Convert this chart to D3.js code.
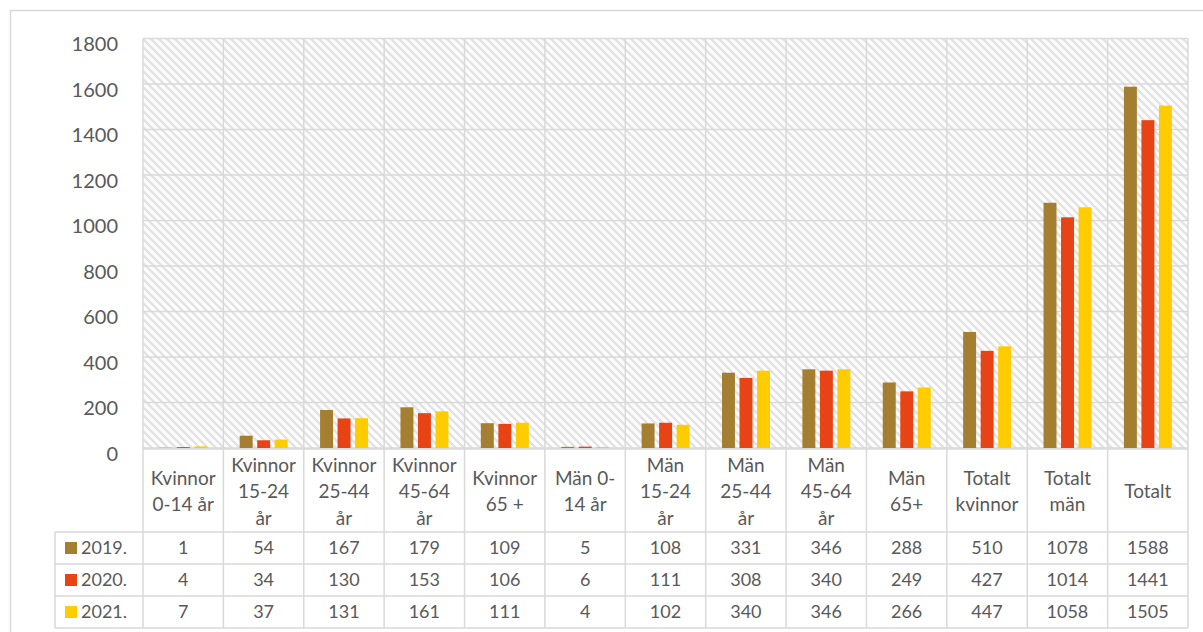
<!DOCTYPE html>
<meta charset="utf-8">
<style>
  body { margin: 0; background: #fff; }
  text { font-family: Lato, "Noto Sans", sans-serif; fill: #595959; }
</style>
<script src="https://d3js.org/d3.v7.min.js"></script>
<div id="chart"></div>
<script>

// data
var headers = [
  ["Kvinnor", "0-14 år"],
  ["Kvinnor", "15-24", "år"],
  ["Kvinnor", "25-44", "år"],
  ["Kvinnor", "45-64", "år"],
  ["Kvinnor", "65 +"],
  ["Män 0-", "14 år"],
  ["Män", "15-24", "år"],
  ["Män", "25-44", "år"],
  ["Män", "45-64", "år"],
  ["Män", "65+"],
  ["Totalt", "kvinnor"],
  ["Totalt", "män"],
  ["Totalt"]
];
var years = ["2019.", "2020.", "2021."];
var values2019 = [1, 54, 167, 179, 109, 5, 108, 331, 346, 288, 510, 1078, 1588];
var values2020 = [4, 34, 130, 153, 106, 6, 111, 308, 340, 249, 427, 1014, 1441];
var values2021 = [7, 37, 131, 161, 111, 4, 102, 340, 346, 266, 447, 1058, 1505];
var colors = ["#a47f31", "#e84314", "#ffcc00"];
var yTicks = [0, 200, 400, 600, 800, 1000, 1200, 1400, 1600, 1800];

var series = [values2019, values2020, values2021];

var W = 1203, H = 632;
var gridColor = "#d9d9d9";

var svg = d3.select("#chart").append("svg")
    .attr("width", W)
    .attr("height", H);

// hatch pattern for the plot area
var defs = svg.append("defs");
var pat = defs.append("pattern")
    .attr("id", "hatch")
    .attr("patternUnits", "userSpaceOnUse")
    .attr("width", 8)
    .attr("height", 8);
pat.append("rect").attr("width", 8).attr("height", 8).attr("fill", "#fff");
pat.append("path")
    .attr("d", "M-2,-2 L10,10 M-2,6 L2,10 M6,-2 L10,2")
    .attr("stroke", "#e3e3e3")
    .attr("stroke-width", 2.6);

// outer frame (cut off at the right and bottom)
svg.append("path")
    .attr("d", "M10.5," + (H + 2) + " L10.5,10.5 L" + (W + 2) + ",10.5")
    .attr("fill", "none")
    .attr("stroke", gridColor)
    .attr("stroke-width", 1.5);

// scales
var x = d3.scaleBand()
  .domain(d3.range(headers.length))
  .range([143, 1188])
  .padding(0);

var xSub = d3.scaleBand()
  .domain(years)
  .range([16.3, 64.3])
  .paddingInner(0.26);

var y = d3.scaleLinear()
  .domain([0, 1800])
  .range([448, 38.5]);

var tableTop = 449, headerBottom = 532, rowH = 32, tableLeft = 55;
var tableBottom = headerBottom + rowH * years.length;

// plot background
svg.append("rect")
    .attr("x", x.range()[0])
    .attr("y", y(1800))
    .attr("width", x.range()[1] - x.range()[0])
    .attr("height", y(0) - y(1800))
    .attr("fill", "url(#hatch)");

// horizontal grid lines
svg.append("g").selectAll("line")
  .data(yTicks)
  .enter().append("line")
    .attr("x1", x.range()[0])
    .attr("x2", x.range()[1])
    .attr("y1", function(d) { return y(d); })
    .attr("y2", function(d) { return y(d); })
    .attr("stroke", gridColor)
    .attr("stroke-width", 1.5);

// vertical lines: category borders run through plot and table
var borders = d3.range(headers.length).map(function(i) { return x(i); }).concat([x.range()[1]]);
svg.append("g").selectAll("line")
  .data(borders)
  .enter().append("line")
    .attr("x1", function(d) { return d; })
    .attr("x2", function(d) { return d; })
    .attr("y1", y(1800))
    .attr("y2", tableBottom)
    .attr("stroke", gridColor)
    .attr("stroke-width", 1.5);

// Y AXIS
var yAxis = d3.axisLeft(y)
  .tickValues(yTicks)
  .tickFormat(d3.format("d"))
  .tickSize(0)
  .tickPadding(25);
var ya = svg.append("g")
  .attr("transform", "translate(" + x.range()[0] + ",0)")
  .call(yAxis);
ya.select(".domain").remove();
ya.selectAll("text")
  .attr("dy", "0.6em")
  .style("font-size", "20px")
  .style("font-family", "Lato, sans-serif")
  .attr("fill", "#595959");

// bars
var groups = svg.append("g").selectAll("g")
  .data(d3.range(headers.length))
  .enter().append("g")
    .attr("transform", function(i) { return "translate(" + x(i) + ",0)"; });

groups.selectAll("rect")
  .data(function(i) { return series.map(function(s, k) { return {year: years[k], value: s[i], k: k}; }); })
  .enter().append("rect")
    .attr("x", function(d) { return xSub(d.year); })
    .attr("width", xSub.bandwidth())
    .attr("y", function(d) { return y(d.value); })
    .attr("height", function(d) { return y(0) - y(d.value); })
    .attr("fill", function(d) { return colors[d.k]; });

// TABLE lines
var hLines = [
  {y: tableTop, x1: x.range()[0]},
  {y: headerBottom, x1: tableLeft}
];
years.forEach(function(yr, k) {
  hLines.push({y: headerBottom + rowH * (k + 1), x1: tableLeft});
});
svg.append("g").selectAll("line")
  .data(hLines)
  .enter().append("line")
    .attr("x1", function(d) { return d.x1; })
    .attr("x2", x.range()[1])
    .attr("y1", function(d) { return d.y; })
    .attr("y2", function(d) { return d.y; })
    .attr("stroke", gridColor)
    .attr("stroke-width", 1.5);

svg.append("line")
    .attr("x1", tableLeft).attr("x2", tableLeft)
    .attr("y1", headerBottom).attr("y2", tableBottom)
    .attr("stroke", gridColor)
    .attr("stroke-width", 1.5);

// header labels
var lineH = 26.5;
var hdr = svg.append("g").selectAll("text")
  .data(headers)
  .enter().append("text")
    .attr("text-anchor", "middle")
    .attr("font-size", "19px")
    .attr("x", function(d, i) { return x(i) + x.bandwidth() / 2; })
    .attr("y", function(d) {
      var mid = (tableTop + headerBottom) / 2 + 1;
      return mid - (d.length - 1) * lineH / 2;
    });
hdr.selectAll("tspan")
  .data(function(d) { return d; })
  .enter().append("tspan")
    .attr("x", function() { return d3.select(this.parentNode).attr("x"); })
    .attr("dy", function(d, j) { return j === 0 ? "0.35em" : lineH; })
    .text(function(d) { return d; });

// data rows
years.forEach(function(yr, k) {
  var cy = headerBottom + rowH * k + rowH / 2;
  var row = svg.append("g");
  row.append("rect")
      .attr("x", 65)
      .attr("y", cy - 6)
      .attr("width", 12)
      .attr("height", 12)
      .attr("fill", colors[k]);
  row.append("text")
      .attr("x", 81)
      .attr("y", cy)
      .attr("dy", "0.35em")
      .attr("font-size", "18px")
      .text(yr);
  row.selectAll("text.val")
    .data(series[k])
    .enter().append("text")
      .attr("class", "val")
      .attr("text-anchor", "middle")
      .attr("font-size", "18px")
      .attr("x", function(d, i) { return x(i) + x.bandwidth() / 2; })
      .attr("y", cy)
      .attr("dy", "0.35em")
      .text(function(d) { return d; });
});

</script>
